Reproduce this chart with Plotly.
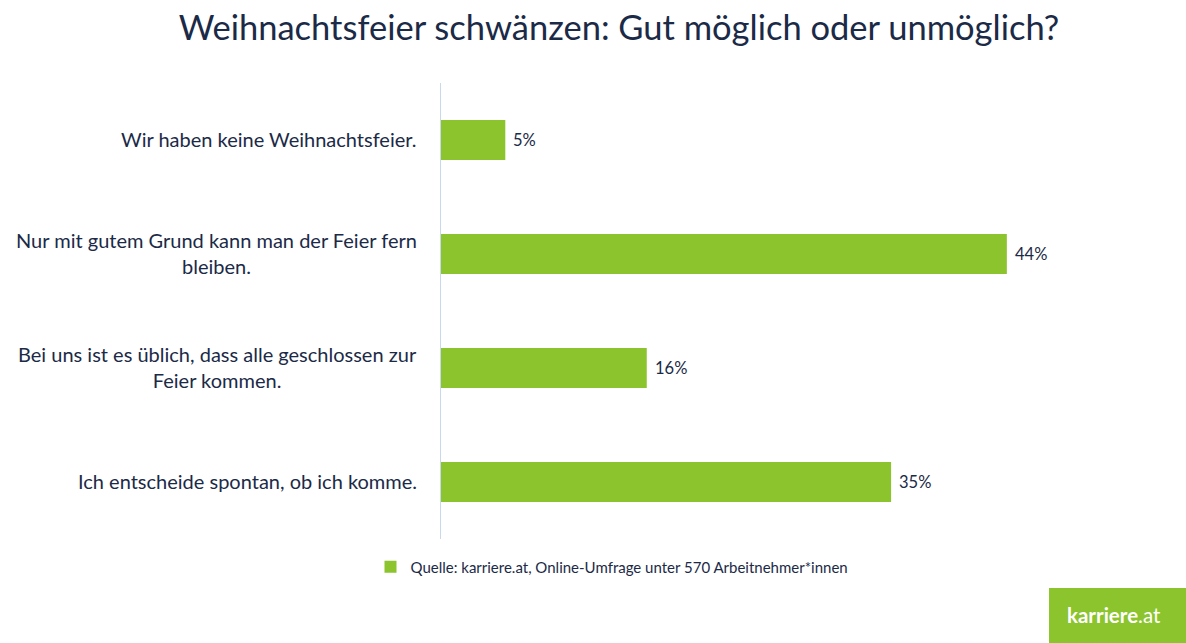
import plotly.graph_objects as go

categories = [
    "Wir haben keine Weihnachtsfeier.",
    "Nur mit gutem Grund kann man der Feier fern<br>bleiben.",
    "Bei uns ist es üblich, dass alle geschlossen zur<br>Feier kommen.",
    "Ich entscheide spontan, ob ich komme.",
]
values = [5, 44, 16, 35]
value_labels = ["5%", "44%", "16%", "35%"]
series_name = "Quelle: karriere.at, Online-Umfrage unter 570 Arbeitnehmer*innen"

GREEN = "#8cc42d"
NAVY = "#1b2a47"
FONT = "Lato"

fig = go.Figure()
fig.add_trace(go.Bar(
    y=categories, x=values, orientation="h", name=series_name,
    marker=dict(color=GREEN, line=dict(width=0)), width=0.35,
    showlegend=True, hoverinfo="x+y",
))

for c, v, t in zip(categories, values, value_labels):
    fig.add_annotation(x=v, y=c, xref="x", yref="y", text=t, showarrow=False,
                       xanchor="left", xshift=6, font=dict(family=FONT, size=16.5, color=NAVY))
    fig.add_annotation(x=0, y=c, xref="x", yref="y", text=c, showarrow=False,
                       xanchor="right", xshift=-22, yshift=1, align="center",
                       font=dict(family=FONT, size=20, color=NAVY))

# logo
fig.add_shape(type="rect", xref="paper", yref="paper", x0=0.9456, x1=1.17, y0=-0.1075, y1=-0.24,
              fillcolor=GREEN, line=dict(width=0), layer="above")
fig.add_annotation(xref="paper", yref="paper", x=(1114-441)/643, y=(539-615)/456,
                   text="<b>karriere</b>.at", showarrow=False, xanchor="center", yanchor="middle",
                   font=dict(family=FONT, size=20.5, color="white"))

fig.update_layout(
    width=1186, height=643,
    margin=dict(l=441, r=102, t=83, b=104),
    paper_bgcolor="white", plot_bgcolor="white",
    title=dict(text="Weihnachtsfeier schwänzen: Gut möglich oder unmöglich?",
               x=619/1186, xref="container", xanchor="center",
               y=1-28/643, yref="container", yanchor="middle",
               font=dict(family=FONT, size=34.5, color=NAVY)),
    xaxis=dict(range=[0, 50], showgrid=False, showticklabels=False, zeroline=False,
               showline=False, fixedrange=True),
    yaxis=dict(categoryorder="array", categoryarray=categories,
               range=[3.5, -0.5], autorange=False,
               showticklabels=False, showgrid=False, zeroline=False,
               showline=True, linecolor="#c9d8ec", linewidth=1, ticks=""),
    legend=dict(orientation="h", x=(612-441)/643, xanchor="center", y=-28/456, yanchor="middle",
                font=dict(family=FONT, size=15, color=NAVY), itemsizing="constant"),
    showlegend=True,
    bargap=0.65,
)

fig.write_html("out.html")
